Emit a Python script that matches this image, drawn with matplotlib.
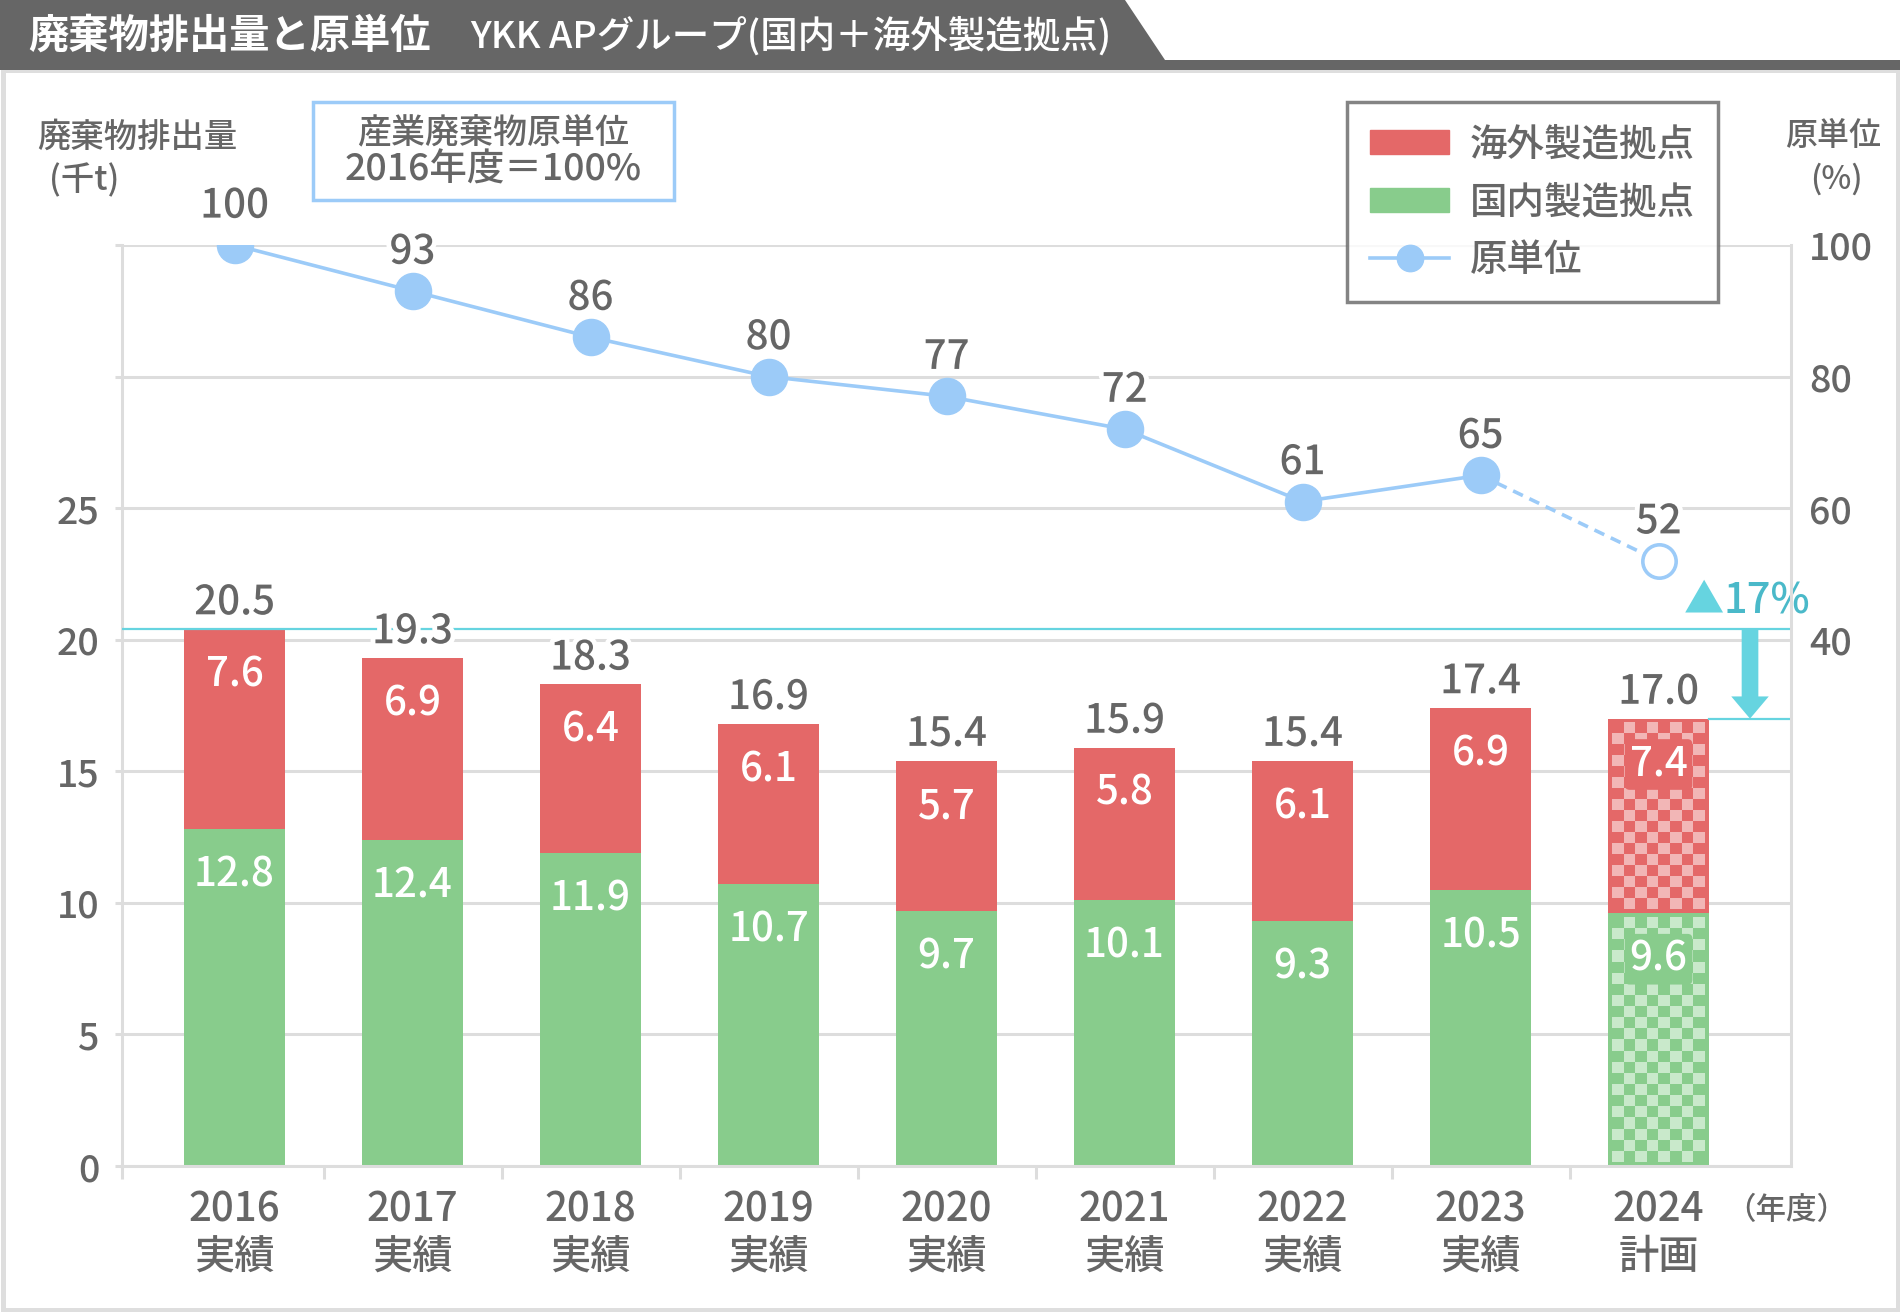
import matplotlib.pyplot as plt
import matplotlib.patheffects as pe
import numpy as np
from matplotlib.colors import to_rgb
from matplotlib.lines import Line2D
from matplotlib.patches import FancyArrowPatch, Patch, Polygon, Rectangle

plt.rcParams['font.family'] = ['Noto Sans CJK JP', 'DejaVu Sans']
plt.rcParams['font.weight'] = 'medium'

# data
years = ['2016', '2017', '2018', '2019', '2020', '2021', '2022', '2023', '2024']
status = ['実績', '実績', '実績', '実績', '実績', '実績', '実績', '実績', '計画']
domestic = [12.8, 12.4, 11.9, 10.7, 9.7, 10.1, 9.3, 10.5, 9.6]
overseas = [7.6, 6.9, 6.4, 6.1, 5.7, 5.8, 6.1, 6.9, 7.4]
totals = [20.5, 19.3, 18.3, 16.9, 15.4, 15.9, 15.4, 17.4, 17.0]
ratio = [100, 93, 86, 80, 77, 72, 61, 65, 52]
reduction = '17%'

RED = '#e46868'
RED_L = '#f2b6b6'
GREEN = '#88cc8c'
GREEN_L = '#c9e9cb'
BLUE = '#9ccbf8'
CYAN = '#66d4e0'
TEAL = '#4ab9c9'
GRAY = '#666666'
GRID = '#dddddd'

W, H = 1900, 1312
fig = plt.figure(figsize=(W / 100, H / 100), dpi=100)


def fx(px):
    return px / W


def fy(py):
    return 1 - py / H


# frame and title band
fig.add_artist(Rectangle((fx(2.5), fy(1309.5)), fx(1897.5) - fx(2.5), fy(70) - fy(1309.5),
                         transform=fig.transFigure, fill=False, ec='#dedede', lw=3.6))
fig.add_artist(Polygon([[0, fy(0)], [fx(1125), fy(0)], [fx(1165), fy(60)], [0, fy(60)]],
                       closed=True, transform=fig.transFigure, fc=GRAY, ec='none'))
fig.add_artist(Rectangle((0, fy(70)), 1, fy(60) - fy(70), transform=fig.transFigure,
                         fc=GRAY, ec='none'))
fig.text(fx(28), fy(36), '廃棄物排出量と原単位', color='white', fontsize=29,
         fontweight='bold', va='center', ha='left')
fig.text(fx(470), fy(36), 'YKK APグループ(国内＋海外製造拠点)', color='white',
         fontsize=27, va='center', ha='left')

ax = fig.add_axes([fx(122), fy(1166), fx(1791) - fx(122), fy(245) - fy(1166)])
ax2 = ax.twinx()

x = np.arange(len(years))
bar_w = 0.567
xlim = (-0.632, 8.744)
ax.set_xlim(xlim)
ax.set_ylim(0, 35)
ax2.set_ylim(-40, 100)

n = len(years) - 1
ax.bar(x[:n], domestic[:n], bar_w, color=GREEN, zorder=2)
ax.bar(x[:n], overseas[:n], bar_w, bottom=domestic[:n], color=RED, zorder=2)


def checker(xc, y0, h, base, light, cell=11, inset=4):
    ax.bar(xc, h, bar_w, bottom=y0, color=base, zorder=2)
    px0, py0 = ax.transData.transform((xc - bar_w / 2, y0))
    px1, py1 = ax.transData.transform((xc + bar_w / 2, y0 + h))
    px0, px1, py0, py1 = px0 + inset, px1 - inset, py0 + inset, py1 - inset
    ncol = max(1, round((px1 - px0) / cell))
    nrow = max(1, round((py1 - py0) / cell))
    mask = (np.add.outer(np.arange(nrow), np.arange(ncol)) % 2).astype(bool)
    img = np.where(mask[..., None], to_rgb(light), to_rgb(base))
    inv = ax.transData.inverted()
    dx0, dy0 = inv.transform((px0, py0))
    dx1, dy1 = inv.transform((px1, py1))
    ax.imshow(img, extent=(dx0, dx1, dy0, dy1), aspect='auto',
              interpolation='nearest', zorder=2.5)


checker(x[n], 0, domestic[n], GREEN, GREEN_L)
checker(x[n], domestic[n], overseas[n], RED, RED_L)
ax.set_xlim(xlim)
ax.set_ylim(0, 35)

stroke = [pe.withStroke(linewidth=7, foreground='white')]
for i in x:
    plan = i == n
    for val, top, base in [(domestic[i], domestic[i], GREEN),
                           (overseas[i], domestic[i] + overseas[i], RED)]:
        bbox = dict(boxstyle='round,pad=0.12', fc=base, ec='none') if plan else None
        ax.annotate(f'{val:.1f}', (i, top), xytext=(0, -33), textcoords='offset points',
                    ha='center', va='center', color='white', fontsize=29, zorder=4,
                    bbox=bbox)
    ax.annotate(f'{totals[i]:.1f}', (i, domestic[i] + overseas[i]), xytext=(0, 19),
                textcoords='offset points', ha='center', va='center', color=GRAY,
                fontsize=29, zorder=4, path_effects=stroke)

# reduction marker
top_first = domestic[0] + overseas[0]
top_plan = domestic[n] + overseas[n]
span = xlim[1] - xlim[0]
ax.axhline(top_first, color=CYAN, lw=1.6, zorder=3)
ax.axhline(top_plan, xmin=(x[n] + bar_w / 2 - xlim[0]) / span, xmax=1, color=CYAN,
           lw=1.6, zorder=3)
arrow_x = (x[n] + bar_w / 2 + xlim[1]) / 2
ax.add_patch(FancyArrowPatch((arrow_x, top_first), (arrow_x, top_plan),
                             arrowstyle='simple,head_width=27,head_length=16,tail_width=12',
                             shrinkA=0, shrinkB=0, color=CYAN, lw=0, zorder=3))
ax.annotate('▲', (arrow_x, top_first), xytext=(-33, 20), textcoords='offset points',
            ha='center', va='center', color=CYAN, fontsize=29, zorder=4,
            annotation_clip=False)
ax.annotate(reduction, (arrow_x, top_first), xytext=(-19, 20), textcoords='offset points',
            ha='left', va='center', color=TEAL, fontsize=30, zorder=4,
            annotation_clip=False)

# unit ratio line
ax2.plot(x[n - 1:], ratio[n - 1:], color=BLUE, lw=2.6, ls=(0, (3, 2)), zorder=3)
ax2.plot(x[:n], ratio[:n], color=BLUE, lw=2.6, marker='o', ms=26, zorder=3)
ax2.plot(x[n:], ratio[n:], ls='none', marker='o', ms=24, mfc='white', mec=BLUE,
         mew=2.6, zorder=3)
for i in x:
    ax2.annotate(str(ratio[i]), (i, ratio[i]), xytext=(0, 28), textcoords='offset points',
                 ha='center', va='center', color=GRAY, fontsize=29, zorder=4,
                 path_effects=stroke, annotation_clip=False)

# axes styling
ax.set_yticks(range(0, 40, 5), ['0', '5', '10', '15', '20', '25', '', ''])
ax.yaxis.grid(True, color=GRID, lw=2.2)
ax.set_axisbelow(True)
ax.tick_params(axis='y', length=5, width=2.2, color=GRID, pad=11, labelsize=27,
               labelcolor=GRAY)
ax.set_xticks(x, [f'{y}\n{s}' for y, s in zip(years, status)])
ax.set_xticks([xlim[0]] + list(x[:-1] + 0.5), minor=True)
ax.tick_params(axis='x', which='major', length=0, pad=17, labelsize=29, labelcolor=GRAY)
ax.tick_params(axis='x', which='minor', length=9, width=2.2, color=GRID)
for s in ['top', 'right']:
    ax.spines[s].set_visible(False)
for s in ['left', 'bottom']:
    ax.spines[s].set_color(GRID)
    ax.spines[s].set_linewidth(2.2)
for s in ['top', 'left', 'bottom']:
    ax2.spines[s].set_visible(False)
ax2.spines['right'].set_color(GRID)
ax2.spines['right'].set_linewidth(2.2)
ax2.set_yticks([40, 60, 80, 100])
ax2.tick_params(axis='y', length=0, pad=13, labelsize=27, labelcolor=GRAY)

# axis titles and note box
fig.text(fx(137), fy(137), '廃棄物排出量', ha='center', va='center', color=GRAY, fontsize=24)
fig.text(fx(84), fy(181), '(千t)', ha='center', va='center', color=GRAY, fontsize=24)
fig.text(fx(1833), fy(136), '原単位', ha='center', va='center', color=GRAY, fontsize=23)
fig.text(fx(1836), fy(179), '(%)', ha='center', va='center', color=GRAY, fontsize=23)
fig.text(fx(1786), fy(1210), '（年度）', ha='center', va='center', color=GRAY, fontsize=22)
fig.add_artist(Rectangle((fx(313), fy(200)), fx(674) - fx(313), fy(102) - fy(200),
                         transform=fig.transFigure, fill=False, ec=BLUE, lw=2.5))
fig.text(fx(493), fy(133), '産業廃棄物原単位', ha='center', va='center', color=GRAY,
         fontsize=24.5)
fig.text(fx(493), fy(170), '2016年度＝100%', ha='center', va='center', color=GRAY,
         fontsize=27)

# legend
handles = [Patch(color=RED), Patch(color=GREEN),
           Line2D([], [], color=BLUE, lw=2.6, marker='o', ms=19)]
leg = fig.legend(handles, ['海外製造拠点', '国内製造拠点', '原単位'], loc='upper left',
                 bbox_to_anchor=(fx(1347), fy(102)), fontsize=27, labelcolor=GRAY,
                 frameon=True, fancybox=False, edgecolor=GRAY, handlelength=2.1,
                 handleheight=0.6, handletextpad=0.55, labelspacing=0.53, borderpad=0.62,
                 borderaxespad=0)
leg.get_frame().set_linewidth(2.5)

fig.savefig('out.png', dpi=100)
